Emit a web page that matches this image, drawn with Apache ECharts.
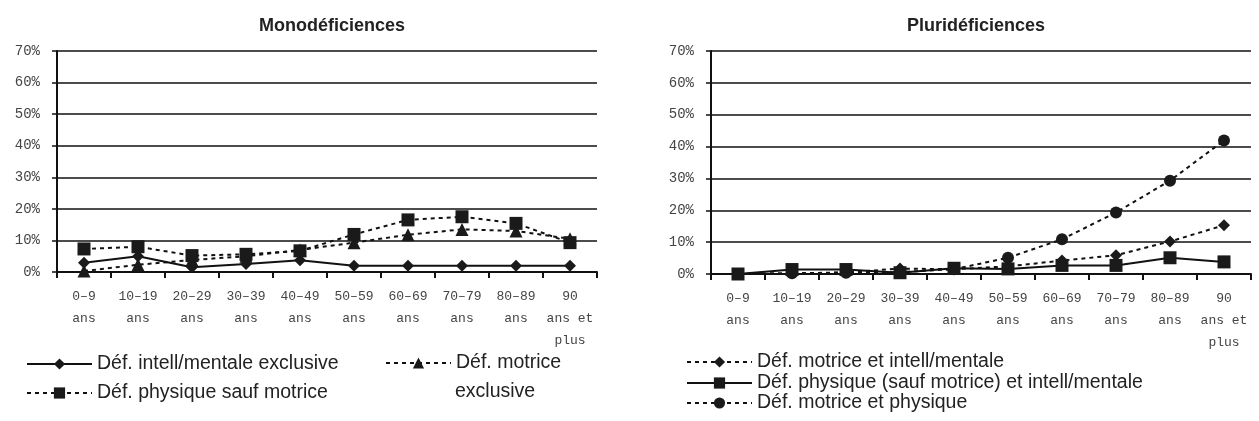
<!DOCTYPE html>
<html>
<head>
<meta charset="utf-8">
<script src="https://cdn.jsdelivr.net/npm/echarts@6/dist/echarts.min.js"></script>
<style>
html,body{margin:0;padding:0;background:#fff;}
#c{width:1259px;height:421px;}
</style>
</head>
<body>
<div id="c"></div>
<script>
// ---- Data ----
const categories = ['0–9\nans', '10–19\nans', '20–29\nans', '30–39\nans', '40–49\nans',
  '50–59\nans', '60–69\nans', '70–79\nans', '80–89\nans', '90\nans et\nplus'];
const yTicks = [0, 10, 20, 30, 40, 50, 60, 70];

// Monodéficiences (%)
const monoIntell = [2.9, 5.0, 1.5, 2.5, 3.7, 2.0, 2.0, 2.0, 2.0, 2.0];
const monoMotrice = [0.3, 2.3, 3.8, 5.0, 7.0, 9.3, 11.8, 13.5, 13.0, 10.5];
const monoPhysique = [7.3, 8.0, 5.2, 5.6, 6.7, 11.9, 16.5, 17.5, 15.4, 9.3];

// Pluridéficiences (%)
const pluriMotIntell = [0, 0.2, 0.5, 1.7, 1.5, 2.4, 4.2, 5.9, 10.2, 15.3];
const pluriPhysIntell = [0, 1.4, 1.4, 0.4, 1.8, 1.6, 2.7, 2.7, 5.1, 3.8];
const pluriMotPhys = [0, 0.2, 0.4, 0.6, 1.5, 5.1, 10.9, 19.3, 29.3, 41.9];

const titles = ['Monodéficiences', 'Pluridéficiences'];
const names = {
  mi: 'Déf. intell/mentale exclusive',
  mm: 'Déf. motrice exclusive',
  mp: 'Déf. physique sauf motrice',
  pmi: 'Déf. motrice et intell/mentale',
  ppi: 'Déf. physique (sauf motrice) et intell/mentale',
  pmp: 'Déf. motrice et physique'
};

// ---- Chart ----
const chart = echarts.init(document.getElementById('c'), null, {renderer: 'canvas'});
const axisFont = 'Liberation Mono';
const textFont = 'Liberation Sans';
const DASH = [4, 4];

function xAxis(gi) {
  return {
    type: 'category', gridIndex: gi, data: categories, boundaryGap: true,
    axisLine: {show: true, lineStyle: {color: '#111', width: 2}},
    axisTick: {show: true, length: 6, interval: 0, lineStyle: {color: '#111', width: 2}},
    axisLabel: {interval: 0, color: '#444', fontFamily: axisFont, fontSize: 13, lineHeight: 22, margin: 14}
  };
}
function yAxis(gi) {
  return {
    type: 'value', gridIndex: gi, min: yTicks[0], max: yTicks[yTicks.length - 1], interval: 10,
    axisLine: {show: true, lineStyle: {color: '#111', width: 2}},
    axisTick: {show: true, length: 5, lineStyle: {color: '#111', width: 1.5}},
    axisLabel: {formatter: '{value}%', color: '#444', fontFamily: axisFont, fontSize: 14, margin: 17},
    splitLine: {show: true, lineStyle: {color: '#111', width: 1.6}}
  };
}
function line(name, data, gi, symbol, size, dashed) {
  return {
    type: 'line', name: name, data: data, xAxisIndex: gi, yAxisIndex: gi,
    symbol: symbol, symbolSize: size, showSymbol: true,
    lineStyle: {color: '#111', width: 2, type: dashed ? DASH : 'solid'},
    itemStyle: {color: '#1a1a1a', borderWidth: 0},
    emphasis: {disabled: true}, animation: false
  };
}
function legend(name, left, top, fmt) {
  return {
    data: [name], left: left, top: top, orient: 'vertical',
    itemWidth: 65, itemHeight: 14, selectedMode: false, padding: 0,
    textStyle: {fontFamily: textFont, fontSize: 19.5, color: '#222', lineHeight: 22},
    formatter: fmt || undefined
  };
}

const option = {
  backgroundColor: '#fff',
  animation: false,
  title: [
    {text: titles[0], left: 327, top: 12, textAlign: 'center',
      textStyle: {fontFamily: textFont, fontSize: 18, fontWeight: 'bold', color: '#222'}},
    {text: titles[1], left: 971, top: 12, textAlign: 'center',
      textStyle: {fontFamily: textFont, fontSize: 18, fontWeight: 'bold', color: '#222'}}
  ],
  grid: [
    {left: 57, top: 51, width: 540, height: 221},
    {left: 711, top: 51, width: 540, height: 223}
  ],
  xAxis: [xAxis(0), xAxis(1)],
  yAxis: [yAxis(0), yAxis(1)],
  legend: [
    legend(names.mi, 26, 353),
    legend(names.mp, 26, 382),
    legend(names.mm, 385, 352, function () { return 'Déf. motrice'; }),
    legend(names.pmi, 686, 351),
    legend(names.ppi, 686, 372),
    legend(names.pmp, 686, 392)
  ],
  graphic: [
    {type: 'text', left: 455, top: 382, style: {text: 'exclusive', fontFamily: textFont, fontSize: 19.5, fill: '#222'}}
  ],
  series: [
    line(names.mi, monoIntell, 0, 'diamond', 12, false),
    line(names.mm, monoMotrice, 0, 'triangle', 13, true),
    line(names.mp, monoPhysique, 0, 'rect', 13, true),
    line(names.pmi, pluriMotIntell, 1, 'diamond', 12, true),
    line(names.ppi, pluriPhysIntell, 1, 'rect', 13, false),
    line(names.pmp, pluriMotPhys, 1, 'circle', 12, true)
  ]
};
chart.setOption(option);
</script>
</body>
</html>
